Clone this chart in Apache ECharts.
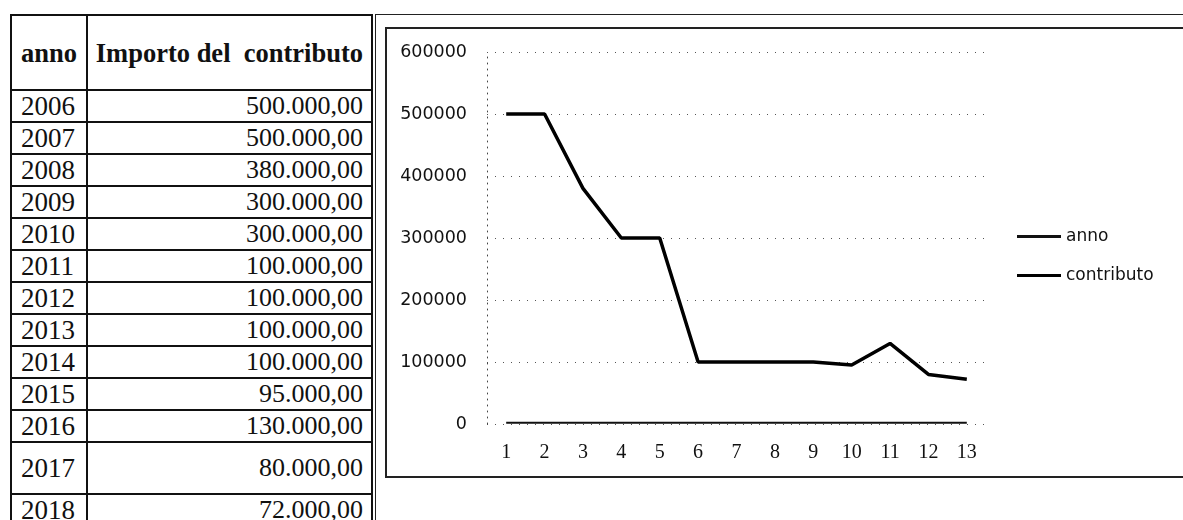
<!DOCTYPE html>
<html>
<head>
<meta charset="utf-8">
<script src="https://cdn.jsdelivr.net/npm/echarts@6/dist/echarts.min.js"></script>
<style>
  html, body { margin: 0; padding: 0; background: #fff; }
  body { width: 1183px; height: 520px; position: relative; overflow: hidden; }
  .chart { position: absolute; left: 0; top: 0; width: 1183px; height: 520px; }
  .tbl {
    position: absolute; left: 10px; top: 14px;
    border-collapse: collapse; table-layout: fixed; width: 363px;
    font-family: "Liberation Serif", serif; color: #111;
  }
  .tbl td, .tbl th { border: 2px solid #111; padding: 0; height: 30px; line-height: 30px; box-sizing: border-box; }
  .tbl th { height: 75px; font-size: 26.5px; font-weight: bold; white-space: nowrap; }
  .tbl td { font-size: 26px; height: 32px; }
  .tbl .y { width: 76px; text-align: left; padding-left: 9px; }
  .tbl th.y { text-align: center; padding-left: 0; }
  .tbl .v { text-align: right; padding-right: 8px; }
  .tbl td.y { font-size: 27px; }
  .tbl tr.tall td { height: 52px; }
  .line { position: absolute; background: #222; }
</style>
</head>
<body>
<table class="tbl" id="tbl"></table>
<div class="line" style="left:375px; top:14px; width:808px; height:1px;"></div>
<div class="line" style="left:375px; top:14px; width:1px; height:506px;"></div>
<div class="line" style="left:385px; top:27px; width:798px; height:2px;"></div>
<div class="line" style="left:385px; top:27px; width:2px; height:451px;"></div>
<div class="line" style="left:385px; top:476px; width:798px; height:2px;"></div>
<div class="chart" id="chart"></div>
<script>
const years = [2006, 2007, 2008, 2009, 2010, 2011, 2012, 2013, 2014, 2015, 2016, 2017, 2018]
const contributo = [500000, 500000, 380000, 300000, 300000, 100000, 100000, 100000, 100000, 95000, 130000, 80000, 72000]
const categories = ['1', '2', '3', '4', '5', '6', '7', '8', '9', '10', '11', '12', '13']
const headers = ['anno', 'Importo del\u00a0 contributo']
const legendNames = ['anno', 'contributo']

function fmt (v) {
  return String(Math.round(v)).replace(/\B(?=(\d{3})+(?!\d))/g, '.') + ',00'
}

// table on the left
const tbl = document.getElementById('tbl')
let html = '<tr><th class="y">' + headers[0] + '</th><th class="v">' + headers[1] + '</th></tr>'
years.forEach((y, i) => {
  const cls = y === 2017 ? ' class="tall"' : ''
  html += '<tr' + cls + '><td class="y">' + y + '</td><td class="v">' + fmt(contributo[i]) + '</td></tr>'
})
tbl.innerHTML = html

const chart = echarts.init(document.getElementById('chart'))

const option = {
  animation: false,
  grid: {
    left: 487,
    right: 197,
    top: 52,
    bottom: 96
  },
  legend: {
    data: legendNames,
    orient: 'vertical',
    left: 1017,
    top: 228,
    padding: 0,
    icon: 'rect',
    itemWidth: 44,
    itemHeight: 3,
    itemGap: 22,
    textStyle: {
      color: '#111',
      fontFamily: 'DejaVu Sans',
      fontSize: 17
    }
  },
  xAxis: {
    type: 'category',
    boundaryGap: true,
    data: categories,
    axisLine: { show: false },
    axisTick: { show: false },
    axisLabel: {
      color: '#111',
      fontFamily: 'Liberation Serif',
      fontSize: 20,
      margin: 19
    }
  },
  yAxis: {
    type: 'value',
    min: 0,
    max: 600000,
    interval: 100000,
    axisLine: {
      show: true,
      lineStyle: { color: '#444', type: [1, 5], width: 1 }
    },
    axisTick: { show: false },
    axisLabel: {
      color: '#111',
      fontFamily: 'DejaVu Sans',
      fontSize: 17.5,
      margin: 20,
      formatter: v => String(v)
    },
    splitLine: {
      lineStyle: { color: '#555', type: [1, 7], width: 1 }
    }
  },
  series: [
    {
      name: 'anno',
      type: 'line',
      data: years,
      symbol: 'none',
      itemStyle: { color: '#111' },
      lineStyle: { color: '#111', width: 2 }
    },
    {
      name: 'contributo',
      type: 'line',
      data: contributo,
      symbol: 'none',
      itemStyle: { color: '#000' },
      lineStyle: { color: '#000', width: 3.5 }
    }
  ]
}

chart.setOption(option)
</script>
</body>
</html>
